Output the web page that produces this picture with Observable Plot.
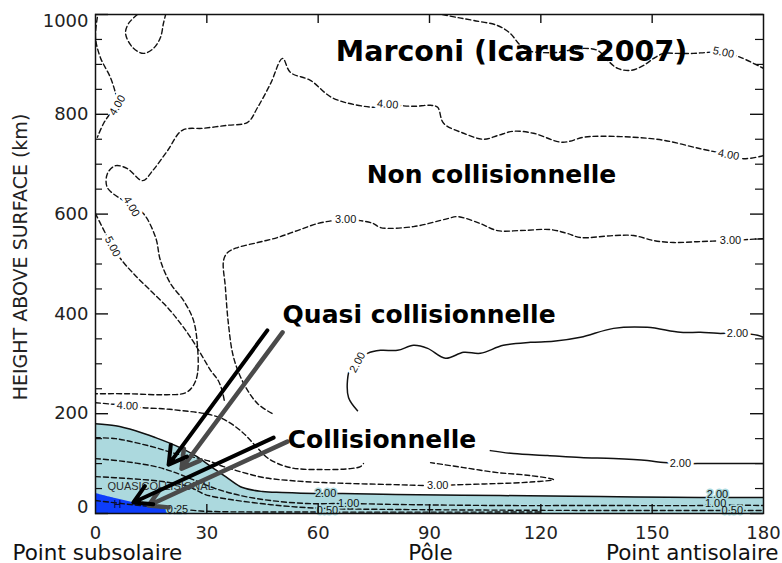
<!DOCTYPE html>
<html>
<head>
<meta charset="utf-8">
<script src="https://cdn.jsdelivr.net/npm/d3@7"></script>
<script src="https://cdn.jsdelivr.net/npm/@observablehq/plot@0.6"></script>
<style>
  html, body { margin: 0; padding: 0; background: #fff; }
  #chart svg { display: block; }
</style>
</head>
<body>
<div id="chart"></div>
<script>
// ---- Contour lines: [solar zenith angle (deg), height (km)] ----
const loopTopLeft = [[11.3,1000],[8.9,982],[8.1,962],[10.0,934],[12.9,922],[15.6,932],[17.5,954],[18.3,982],[18.9,1000]];
const c4TopLeft = [[0.5,994],[0,954],[1.3,914],[4.0,874],[5.4,842],[5.9,822],[4.0,802],[2.2,782],[0.5,754]];
const c5TopRight = [[93.5,1000],[97.5,994],[101.9,988],[108.3,978],[111.8,962],[114.0,942],[116.4,928],[119.9,924],[124.5,924],[130.7,932],[135.3,928],[138.0,908],[140.7,892],[144.2,888],[147.7,898],[150.4,912],[153.1,922],[156.8,922],[161.1,922],[164.9,924],[169.2,924],[173.8,914],[180,892]];
const c4Main = [[180,717],[174.6,711],[170.6,719],[163.0,731],[153.1,748],[145.0,754],[136.1,756],[131.5,754],[125.8,744],[118.0,762],[112.6,766],[108.6,758],[104.6,750],[99.2,762],[93.8,782],[92.2,814],[90.3,818],[85.7,816],[81.4,818],[78.7,820],[76.0,814],[64.1,832],[57.9,868],[52.5,884],[50.4,912],[47.2,862],[43.7,814],[41.0,784],[35.6,778],[29.1,772],[23.4,768],[19.4,727],[15.4,687],[12.7,667],[8.6,691],[5.4,697],[3.2,681],[3.2,653],[7.5,627],[9.7,615],[12.9,601],[16.2,553],[17.5,507],[20.2,461],[23.7,427],[26.4,387],[27.5,333],[27.5,281],[26.4,257],[24.3,242],[18.1,238],[8.9,240],[0,240]];
const c5Left = [[0,601],[2.7,561],[4.6,535],[6.7,511],[10.2,481],[14.8,447],[19.4,413],[22.9,381],[25.6,353],[28.3,321],[31.0,287],[33.1,266],[34.2,244],[34.8,222]];
const c3Main = [[180,551],[175.7,549],[171.1,547],[163.0,545],[155.8,543],[150.4,547],[145.0,557],[139.6,557],[130.7,553],[127.2,561],[122.6,569],[114.5,567],[108.3,567],[103.7,581],[97.5,595],[94.9,591],[85.7,575],[76.8,573],[74.9,581],[71.4,587],[67.4,589],[64.1,587],[59.8,581],[54.4,567],[49.0,553],[43.7,543],[38.3,533],[35.6,523],[34.5,507],[35.0,453],[35.8,381],[37.2,313],[39.9,261],[43.7,220],[47.7,200]];
const c2Upper = [[70.6,206],[68.2,232],[67.9,267],[68.7,293],[70.6,307],[73.3,321],[76.8,327],[81.4,327],[85.7,337],[89.5,331],[94.3,311],[99.2,323],[103.7,321],[109.9,337],[117.2,343],[123.4,345],[130.7,353],[139.6,371],[148.7,373],[157.6,363],[163.0,363],[167.6,361],[173.0,361],[178.4,357],[180,353]];
const c2Middle = [[106.4,126],[112.6,120],[121.8,116],[130.7,112],[139.6,110],[148.7,106],[153.1,102],[157.6,100],[162.2,100],[180,100]];
const c4Lower = [[0,222],[8.6,216],[12.7,212],[18.1,210],[23.4,206],[29.6,200],[34.2,190],[39.1,166],[43.1,136],[46.6,110],[52.5,92],[61.4,88],[68.7,90],[71.4,94],[72.2,100]];
const c3Lower = [[0,152],[5.4,150],[10.8,142],[16.2,132],[21.6,120],[26.9,112],[30.2,106],[34.5,94],[39.9,82],[45.3,72],[52.5,66],[61.4,62],[79.5,58],[91.6,56],[99.2,58],[108.3,60],[117.2,63],[123.4,68],[117.2,76],[108.3,82],[99.2,92],[90.3,102]];
const fillBoundary = [[0,180],[5.4,176],[10.8,166],[16.2,152],[21.6,136],[26.9,116],[31.5,92],[35.8,70],[39.6,52],[45.0,44],[50.4,42],[59.3,40],[66.6,40],[80.8,38],[109.1,36],[136.1,34],[163.0,32],[180,32]];
const c100 = [[0,110],[8.1,104],[16.2,94],[20.7,84],[26.9,66],[32.3,50],[39.1,36],[47.2,26],[57.1,20],[67.4,20],[82.2,18],[109.1,16],[136.1,16],[163.0,16],[167.1,17],[180,16]];
const c050 = [[0,74],[8.9,70],[18.1,64],[25.1,54],[29.6,38],[36.4,28],[44.5,20],[52.5,14],[62.5,10],[82.2,8],[136.1,6],[171.1,6],[180,6]];
const c025 = [[0,26],[9.4,18],[17.5,12],[22.1,10],[28.3,5],[55.2,3],[120,3]];
const collisionalWedge = [[0,40],[5.4,30],[10.0,22],[14.3,16],[19.7,6],[22.4,0]];

// ---- Contour labels ----
const labelsOnWhite = [
  {t:"4.00", x:5.9,  y:818, a:-60},
  {t:"4.00", x:170.6,y:719, a:10},
  {t:"4.00", x:78.7, y:820, a:4},
  {t:"4.00", x:9.7,  y:615, a:60},
  {t:"5.00", x:4.6,  y:535, a:62},
  {t:"5.00", x:169.2,y:924, a:12},
  {t:"3.00", x:67.4, y:589, a:0},
  {t:"3.00", x:171.1,y:547, a:0},
  {t:"2.00", x:70.6, y:303, a:-62},
  {t:"2.00", x:173.0,y:361, a:0},
  {t:"2.00", x:157.6,y:100, a:0},
  {t:"4.00", x:8.6,  y:216, a:3},
  {t:"3.00", x:92.2, y:56,  a:0}
];
const labelsOnFill = [
  {t:"2.00", x:62.0, y:41, a:0},
  {t:"2.00", x:167.6,y:38, a:0},
  {t:"1.00", x:68.2, y:20, a:0},
  {t:"1.00", x:167.1,y:21, a:0},
  {t:"0.50", x:62.5, y:7,  a:0},
  {t:"0.50", x:171.6,y:6,  a:0},
  {t:"0.25", x:22.1, y:9,  a:0}
];
const regionNotes = [
  {t:"QUASICOLLISIONAL", x:3.2, y:48},
  {t:"H", x:5.9, y:12}
];

// ---- Annotations ----
const titleNote = [{t:"Marconi (Icarus 2007)", x:112.1, y:906}];
const regimeNotes = [
  {t:"Non collisionnelle", x:106.7, y:663},
  {t:"Quasi collisionnelle", x:87.2, y:381},
  {t:"Collisionnelle", x:77.2, y:132}
];
const arrowsBlack = [
  {x1:46.3, y1:367, x2:19.7, y2:98},
  {x1:48.0, y1:152, x2:10.2, y2:22}
];
const arrowsGrey = [
  {x1:50.4, y1:363, x2:23.2, y2:90},
  {x1:51.7, y1:144, x2:14.3, y2:16}
];

// ---- Axes ----
const xTicks = [0,30,60,90,120,150,180];
const xInnerTicks = [30,60,90,120,150];
const yMajor = [0,200,400,600,800,1000];
const yMinor = [50,100,150,250,300,350,450,500,550,650,700,750,850,900,950];
const yMidLabels = [200,400,600,800];
const yAxisTitle = "HEIGHT ABOVE SURFACE (km)";
const bottomNames = [{t:"Point subsolaire", at:0},{t:"Pôle", at:90},{t:"Point antisolaire", at:180}];

const W = 782, H = 563, mL = 95, mR = 19, mT = 14, mB = 50;
const plotW = W - mL - mR, plotH = H - mT - mB;
const X = d => d[0], Y = d => d[1];
const FILL = "#acd9de";

const dashed = arr => Plot.line(arr, {x: X, y: Y, stroke: "#111", strokeWidth: 1.4, strokeDasharray: "5,3", curve: "catmull-rom", clip: true});
const solid = arr => Plot.line(arr, {x: X, y: Y, stroke: "#111", strokeWidth: 1.5, curve: "catmull-rom", clip: true});

const chart = Plot.plot({
  width: W, height: H,
  marginLeft: mL, marginRight: mR, marginTop: mT, marginBottom: mB,
  style: {fontFamily: "DejaVu Sans", fontSize: "18px", background: "#fff"},
  x: {domain: [0,180], axis: null},
  y: {domain: [0,1000], axis: null},
  marks: [
    Plot.areaY(fillBoundary, {x: X, y: Y, fill: FILL, curve: "catmull-rom", clip: true}),
    Plot.areaY(collisionalWedge, {x: X, y: Y, fill: "#0d3dfb", curve: "catmull-rom", clip: true}),
    dashed(loopTopLeft), dashed(c4TopLeft), dashed(c5TopRight), dashed(c4Main), dashed(c5Left),
    dashed(c3Main), dashed(c4Lower), dashed(c3Lower), dashed(c100), dashed(c050), dashed(c025),
    solid(c2Upper), solid(c2Middle), solid(fillBoundary),
    // contour label gaps + labels
    Plot.text(labelsOnWhite, {x:"x", y:"y", text:"t", rotate:"a", fill:"white", stroke:"white", strokeWidth:6, fontSize:11, fontFamily:"Liberation Sans"}),
    Plot.text(labelsOnWhite, {x:"x", y:"y", text:"t", rotate:"a", fill:"#111", fontSize:11, fontFamily:"Liberation Sans"}),
    Plot.text(labelsOnFill, {x:"x", y:"y", text:"t", rotate:"a", fill:FILL, stroke:FILL, strokeWidth:3, fontSize:11, fontFamily:"Liberation Sans"}),
    Plot.text(labelsOnFill, {x:"x", y:"y", text:"t", rotate:"a", fill:"#111", fontSize:11, fontFamily:"Liberation Sans"}),
    Plot.text(regionNotes.slice(0,1), {x:"x", y:"y", text:"t", textAnchor:"start", lineAnchor:"bottom", fill:"#2a2a2a", fontSize:11, fontFamily:"Liberation Sans"}),
    Plot.text(regionNotes.slice(1), {x:"x", y:"y", text:"t", lineAnchor:"bottom", fill:"#0a0a3a", fontSize:11, fontFamily:"Liberation Sans"}),
    // frame and inward ticks
    Plot.frame({stroke: "#111", strokeWidth: 1.5}),
    Plot.tickY(yMajor, {y: d => d, insetRight: plotW - 13, stroke: "#111", strokeWidth: 1.4}),
    Plot.tickY(yMinor, {y: d => d, insetRight: plotW - 7, stroke: "#111", strokeWidth: 1.2}),
    Plot.tickY(yMajor, {y: d => d, insetLeft: plotW - 13, stroke: "#111", strokeWidth: 1.4}),
    Plot.tickY(yMinor, {y: d => d, insetLeft: plotW - 8, stroke: "#111", strokeWidth: 1.2}),
    Plot.tickX(xInnerTicks, {x: d => d, insetBottom: plotH - 9, stroke: "#111", strokeWidth: 1.4}),
    Plot.tickX(xInnerTicks, {x: d => d, insetTop: plotH - 9, stroke: "#111", strokeWidth: 1.4}),
    // tick labels
    Plot.text(xTicks, {x: d => d, text: d => String(d), frameAnchor: "bottom", dy: 25, lineAnchor: "bottom", fontSize: 18, fill: "#222"}),
    Plot.text(yMidLabels, {y: d => d, text: d => String(d), frameAnchor: "left", dx: -7, textAnchor: "end", lineAnchor: "middle", fontSize: 18, fill: "#222"}),
    Plot.text([1000], {y: d => d, text: d => String(d), frameAnchor: "left", dx: -7, dy: 7, textAnchor: "end", lineAnchor: "middle", fontSize: 18, fill: "#222"}),
    Plot.text([0], {y: d => d, text: d => String(d), frameAnchor: "left", dx: -7, dy: -6, textAnchor: "end", lineAnchor: "middle", fontSize: 18, fill: "#222"}),
    Plot.text([yAxisTitle], {text: d => d, frameAnchor: "left", dx: -75, dy: -7, rotate: -90, textAnchor: "middle", fontSize: 19, fill: "#222", lineAnchor: "middle"}),
    Plot.text(bottomNames.slice(0,1), {x: "at", text: "t", frameAnchor: "bottom", dy: 46, dx: -83, textAnchor: "start", lineAnchor: "bottom", fontSize: 21.5, fill: "#111"}),
    Plot.text(bottomNames.slice(1,2), {x: "at", text: "t", frameAnchor: "bottom", dy: 46, dx: 1, textAnchor: "middle", lineAnchor: "bottom", fontSize: 21.5, fill: "#111"}),
    Plot.text(bottomNames.slice(2), {x: "at", text: "t", frameAnchor: "bottom", dy: 46, dx: 15, textAnchor: "end", lineAnchor: "bottom", fontSize: 21.5, fill: "#111"}),
    // arrows
    Plot.arrow(arrowsGrey, {x1:"x1", y1:"y1", x2:"x2", y2:"y2", stroke:"#4a4a4a", strokeWidth:4.5, headLength:6.7, headAngle:60}),
    Plot.arrow(arrowsBlack, {x1:"x1", y1:"y1", x2:"x2", y2:"y2", stroke:"#000", strokeWidth:4, headLength:7.5, headAngle:60}),
    // annotations
    Plot.text(titleNote, {x:"x", y:"y", text:"t", lineAnchor:"bottom", fontSize:28.5, fontWeight:"bold", fill:"#000"}),
    Plot.text(regimeNotes, {x:"x", y:"y", text:"t", lineAnchor:"bottom", fontSize:25, fontWeight:"bold", fill:"#000"})
  ]
});
document.getElementById("chart").appendChild(chart);
</script>
</body>
</html>
